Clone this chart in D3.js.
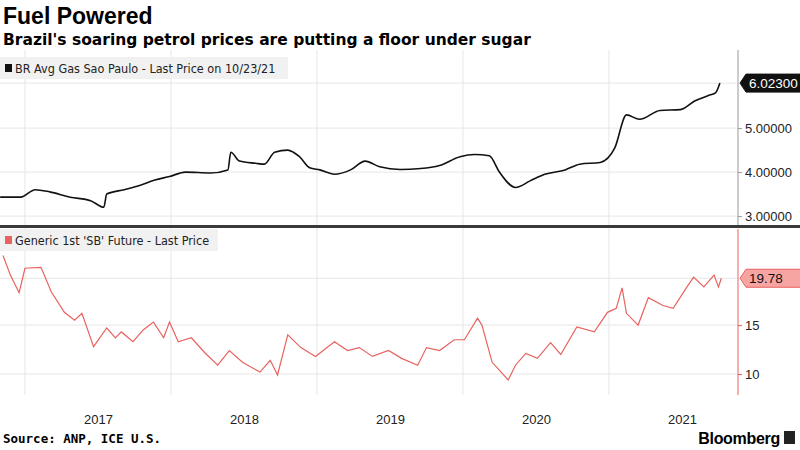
<!DOCTYPE html><html><head><meta charset="utf-8">
<script src="https://cdn.jsdelivr.net/npm/d3@7"></script>
<style>body{margin:0;background:#fff}svg{font-family:"Liberation Sans Narrow","DejaVu Sans Condensed",Arial,sans-serif}</style></head><body>
<svg id="c" width="800" height="450"></svg>
<script>
const gasT=[2016.83,2016.97,2017.07,2017.17,2017.31,2017.45,2017.54,2017.56,2017.68,2017.79,2017.89,2017.99,2018.10,2018.27,2018.39,2018.41,2018.47,2018.58,2018.64,2018.71,2018.80,2018.88,2018.95,2019.02,2019.12,2019.23,2019.33,2019.43,2019.57,2019.71,2019.84,2019.98,2020.08,2020.18,2020.25,2020.36,2020.46,2020.56,2020.70,2020.80,2020.94,2021.04,2021.12,2021.21,2021.35,2021.49,2021.59,2021.69,2021.73,2021.76];
const gasV=[3.43,3.43,3.6,3.55,3.43,3.35,3.2,3.5,3.6,3.7,3.82,3.9,4.0,3.98,4.05,4.45,4.25,4.2,4.18,4.45,4.5,4.35,4.1,4.05,3.95,4.05,4.25,4.12,4.06,4.08,4.15,4.35,4.4,4.37,4.0,3.65,3.8,3.95,4.05,4.18,4.22,4.55,5.3,5.2,5.4,5.42,5.62,5.75,5.8,6.023];
const sugT=[2016.85,2016.90,2016.96,2017.00,2017.11,2017.18,2017.27,2017.34,2017.39,2017.47,2017.56,2017.62,2017.66,2017.74,2017.81,2017.88,2017.95,2017.99,2018.05,2018.14,2018.23,2018.32,2018.40,2018.49,2018.61,2018.68,2018.73,2018.80,2018.89,2018.99,2019.12,2019.21,2019.29,2019.38,2019.49,2019.58,2019.69,2019.75,2019.84,2019.94,2020.01,2020.10,2020.13,2020.20,2020.31,2020.36,2020.43,2020.51,2020.60,2020.67,2020.78,2020.90,2020.99,2021.05,2021.09,2021.12,2021.20,2021.27,2021.37,2021.44,2021.53,2021.58,2021.65,2021.72,2021.75,2021.77];
const sugV=[22.1,20.1,18.3,20.8,20.9,18.4,16.3,15.5,16.2,12.8,14.7,13.7,14.3,13.3,14.5,15.3,13.7,15.3,13.3,13.7,12.2,10.9,12.4,11.2,10.2,11.4,9.9,14.0,12.7,11.8,13.3,12.4,12.7,11.8,12.4,11.6,10.9,12.7,12.4,13.5,13.5,15.7,15.0,11.2,9.4,10.9,12.1,11.6,13.2,12.0,14.8,14.3,16.3,16.7,18.8,16.2,15.0,17.8,17.0,16.7,18.8,19.9,18.9,20.1,18.9,19.78];
const years=[2017,2018,2019,2020,2021];
const gasTicks=[3,4,5], sugTicks=[10,15];
const svg=d3.select("#c");
const x=d3.scaleLinear().domain([2016.829,2021.884]).range([0,738]);
const yG=d3.scaleLinear().domain([2.82,6.73]).range([224,52]);
const yS=d3.scaleLinear().domain([7.86,24.4]).range([395,233]);
svg.append("text").attr("x",3).attr("y",24).attr("font-size",23).attr("font-weight","bold").attr("font-family","Liberation Sans, Arial").text("Fuel Powered");
svg.append("text").attr("x",3).attr("y",45).attr("font-size",15.5).attr("font-weight","bold").attr("font-family","DejaVu Sans, sans-serif").text("Brazil's soaring petrol prices are putting a floor under sugar");
const g=svg.append("g");
years.forEach(yr=>{g.append("line").attr("x1",x(yr)).attr("x2",x(yr)).attr("y1",50).attr("y2",395).attr("stroke","#e6e6e6");});
gasTicks.concat([6.023]).forEach(v=>g.append("line").attr("x1",0).attr("x2",738).attr("y1",yG(v)).attr("y2",yG(v)).attr("stroke","#e6e6e6"));
sugTicks.concat([19.78]).forEach(v=>g.append("line").attr("x1",0).attr("x2",738).attr("y1",yS(v)).attr("y2",yS(v)).attr("stroke","#e6e6e6"));
svg.append("path").datum(gasT.map((t,i)=>[t,gasV[i]])).attr("fill","none").attr("stroke","#111").attr("stroke-width",1.6)
 .attr("d",d3.line().curve(d3.curveMonotoneX).x(d=>x(d[0])).y(d=>yG(d[1])));
svg.append("path").datum(sugT.map((t,i)=>[t,sugV[i]])).attr("fill","none").attr("stroke","#e8625f").attr("stroke-width",1.2)
 .attr("d",d3.line().x(d=>x(d[0])).y(d=>yS(d[1])));
const aG=svg.append("g").attr("transform","translate(738,0)").call(d3.axisRight(yG).tickValues(gasTicks).tickFormat(d3.format(".5f")).tickSize(4));
aG.select(".domain").attr("stroke","#999").attr("d","M0,50V225");
aG.selectAll("line").attr("stroke","#999");
const aS=svg.append("g").attr("transform","translate(738,0)").call(d3.axisRight(yS).tickValues(sugTicks).tickSize(4));
aS.select(".domain").attr("stroke","#e8625f").attr("d","M0,229V395");
aS.selectAll("line").attr("stroke","#e8625f");
svg.selectAll(".tick text").attr("font-size",13).attr("fill","#222").attr("font-family","Liberation Sans Narrow, Arial");
svg.append("rect").attr("x",0).attr("y",225).attr("width",800).attr("height",3).attr("fill","#3a3a3a");
const ax=svg.append("g").attr("transform","translate(0,412)").call(d3.axisBottom(x).tickValues(years.map(y=>y+0.5)).tickFormat(d=>Math.floor(d)).tickSize(0));
ax.select(".domain").remove();
ax.selectAll("text").attr("font-size",13).attr("fill","#222").attr("font-family","Liberation Sans Narrow, Arial");
function legend(y,col,txt,w){svg.append("rect").attr("x",0).attr("y",y).attr("width",w).attr("height",22).attr("fill","#f1f1f1");
 svg.append("rect").attr("x",5).attr("y",y+7).attr("width",7).attr("height",8).attr("fill",col);
 svg.append("text").attr("x",15).attr("y",y+16).attr("font-size",12.5).attr("fill","#222").text(txt);}
legend(57,"#111","BR Avg Gas Sao Paulo - Last Price on 10/23/21",288);
legend(229,"#e8625f","Generic 1st 'SB' Future - Last Price",218);
function flag(y,fill,stroke,tc,txt){const w=60,h=18,x0=740;
 svg.append("path").attr("d",`M${x0},${y}l6,-${h/2}h${w}v${h}h-${w}z`).attr("fill",fill).attr("stroke",stroke);
 svg.append("text").attr("x",x0+9).attr("y",y+5).attr("font-size",13.5).attr("fill",tc).attr("font-family","Liberation Sans Narrow, Arial").text(txt);}
flag(yG(6.023),"#111","#111","#fff","6.02300");
flag(yS(19.78),"#f6a5a3","#e8625f","#111","19.78");
svg.append("text").attr("x",3).attr("y",443).attr("font-size",12.5).attr("font-weight","bold").attr("font-family","DejaVu Sans Mono, monospace").text("Source: ANP, ICE U.S.");
svg.append("text").attr("x",780).attr("y",444).attr("text-anchor","end").attr("font-size",16).attr("font-weight","bold").attr("font-family","Liberation Sans Narrow, Arial").attr("letter-spacing",-0.3).text("Bloomberg");
svg.append("rect").attr("x",784).attr("y",431).attr("width",11).attr("height",13).attr("fill","#222");
</script></body></html>
